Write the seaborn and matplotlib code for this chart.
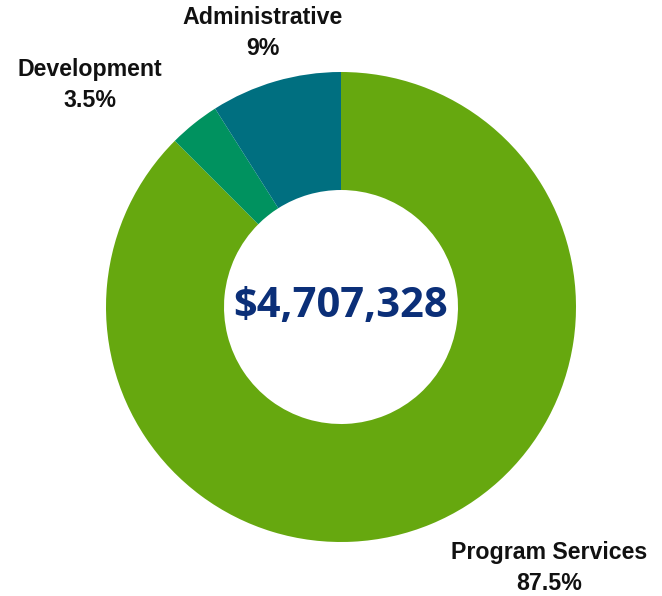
import matplotlib
matplotlib.use('Agg')
import matplotlib.pyplot as plt
import seaborn as sns

# ── Data ─────────────────────────────────────────────
categories = ['Program Services', 'Development', 'Administrative']
shares = [87.5, 3.5, 9.0]
share_labels = ['87.5%', '3.5%', '9%']
colors = ['#66a80f', '#00925f', '#006f80']
total_label = '$4,707,328'

sns.set_theme(style='white')
plt.rcParams['font.family'] = ['Liberation Sans', 'DejaVu Sans']

fig = plt.figure(figsize=(6.62, 5.96), dpi=100)
ax = fig.add_axes([0, 0, 1, 1])

# pixel-like data space, donut centred at (341, 307) in image coordinates
ax.pie(shares, colors=colors, startangle=90, counterclock=False,
       radius=235, center=(0, 0),
       wedgeprops=dict(width=118, edgecolor='none'))

ax.set_xlim(-341, 321)
ax.set_ylim(-289, 307)
ax.set_aspect('equal')
ax.axis('off')

# slice labels
label_pos = {'Program Services': (549, 568),
             'Development': (90, 85),
             'Administrative': (263, 33)}
for cat, lab in zip(categories, share_labels):
    px, py = label_pos[cat]
    ax.text(px - 341, 307 - py, f'{cat}\n{lab}', ha='center', va='center',
            fontsize=16.7, fontweight='bold', color='#111111', linespacing=1.4)

ax.text(0, 0, total_label, ha='center', va='center',
        fontsize=30, fontweight='bold', color='#0b2f78',
        family=['Open Sans', 'DejaVu Sans'])

plt.savefig('out.png', dpi=100)
plt.close(fig)
